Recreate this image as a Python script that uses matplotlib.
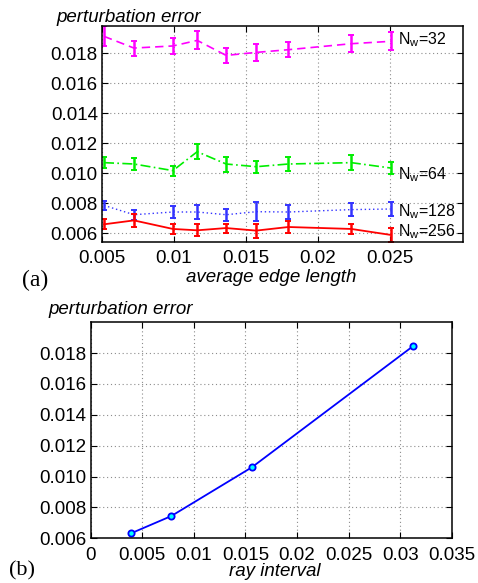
import numpy as np
import matplotlib
matplotlib.use("Agg")
from matplotlib import pyplot as plt

plt.rcParams['font.family'] = ['Liberation Sans', 'DejaVu Sans']
plt.rcParams['mathtext.fontset'] = 'custom'
plt.rcParams['mathtext.rm'] = 'Liberation Sans'

# (a) perturbation error vs average edge length, one series per N_w
edge = [0.00514, 0.00722, 0.00993, 0.01162, 0.01363, 0.01572, 0.01796, 0.02234, 0.02509]

err32 = [0.01911, 0.01833, 0.01847, 0.01884, 0.01784, 0.01804, 0.01822, 0.01862, 0.01878]
sd32 = [0.00067, 0.00050, 0.00053, 0.00060, 0.00050, 0.00058, 0.00050, 0.00055, 0.00060]

err64 = [0.01069, 0.01060, 0.01016, 0.01142, 0.01060, 0.01042, 0.01060, 0.01069, 0.01033]
sd64 = [0.00036, 0.00040, 0.00034, 0.00050, 0.00050, 0.00040, 0.00044, 0.00050, 0.00038]

err128 = [0.00784, 0.00722, 0.00740, 0.00740, 0.00722, 0.00742, 0.00740, 0.00756, 0.00760]
sd128 = [0.00028, 0.00033, 0.00038, 0.00044, 0.00041, 0.00064, 0.00044, 0.00043, 0.00047]

err256 = [0.00658, 0.00684, 0.00627, 0.00618, 0.00633, 0.00616, 0.00640, 0.00627, 0.00587]
sd256 = [0.00034, 0.00044, 0.00031, 0.00040, 0.00030, 0.00047, 0.00039, 0.00031, 0.00048]

# (b) perturbation error vs ray interval
ray = [1/256, 1/128, 1/64, 1/32]
ray_err = [0.00632, 0.00744, 0.01060, 0.01845]


def matlab_axes(ax):
    ax.grid(True, linestyle=(0, (1, 2.5)), color='0.55', linewidth=0.8)
    ax.tick_params(direction='in', top=True, right=True, length=4,
                   labelsize=13.5, pad=3)
    ax.tick_params(axis='x', pad=6)
    for s in ax.spines.values():
        s.set_linewidth(1.1)


fig = plt.figure(figsize=(4.78, 5.83), dpi=100)

ax1 = fig.add_axes([0.2134, 0.5849, 0.7552, 0.3705])
series = [(err32, sd32, '#ff00ff', (0, (5, 3)), 1.2),
          (err64, sd64, '#00ee00', (0, (6, 2, 1, 2)), 1.2),
          (err128, sd128, '#3333ff', (0, (1, 2)), 1.0),
          (err256, sd256, '#ff0000', '-', 1.3)]
for y, e, c, ls, lw in series:
    ax1.plot(edge, y, color=c, linestyle=ls, linewidth=lw)
    ax1.errorbar(edge, y, yerr=e, fmt='none', ecolor=c, elinewidth=1.8,
                 capsize=2.5, capthick=1.4)
ax1.set_xlim(0.005, 0.0301)
ax1.set_ylim(0.0054, 0.0198)
ax1.set_xticks([0.005, 0.01, 0.015, 0.02, 0.025])
ax1.set_xticklabels(['0.005', '0.01', '0.015', '0.02', '0.025'])
ax1.set_yticks([0.006, 0.008, 0.010, 0.012, 0.014, 0.016, 0.018])
ax1.set_yticklabels(['0.006', '0.008', '0.010', '0.012', '0.014', '0.016', '0.018'])
matlab_axes(ax1)

for lab, ly in [('32', 0.01856), ('64', 0.00959), ('128', 0.00712), ('256', 0.00578)]:
    ax1.text(0.02556, ly, r'N$_{\rm w}$=' + lab, fontsize=11.5, va='baseline', ha='left')

ax2 = fig.add_axes([0.1897, 0.0767, 0.7552, 0.3705])
ax2.plot(ray, ray_err, color='#0000ff', linewidth=1.3, marker='o', markersize=4.5,
         markerfacecolor='#00ffff', markeredgecolor='#0000ff', markeredgewidth=1.3)
ax2.set_xlim(0, 0.035)
ax2.set_ylim(0.006, 0.020)
ax2.set_xticks([0, 0.005, 0.01, 0.015, 0.02, 0.025, 0.03, 0.035])
ax2.set_xticklabels(['0', '0.005', '0.01', '0.015', '0.02', '0.025', '0.03', '0.035'])
ax2.set_yticks([0.006, 0.008, 0.010, 0.012, 0.014, 0.016, 0.018])
ax2.set_yticklabels(['0.006', '0.008', '0.010', '0.012', '0.014', '0.016', '0.018'])
matlab_axes(ax2)

W, H = 478.0, 583.0
fig.text(56 / W, 1 - 17 / H, 'perturbation error', fontsize=13.5, style='italic',
         ha='left', va='center')
fig.text(271 / W, 1 - 277 / H, 'average edge length', fontsize=13.5, style='italic',
         ha='center', va='center')
fig.text(22 / W, 1 - 280 / H, '(a)', fontsize=17, family='Liberation Serif',
         ha='left', va='center')

fig.text(48 / W, 1 - 309 / H, 'perturbation error', fontsize=13.5, style='italic',
         ha='left', va='center')
fig.text(275 / W, 1 - 571 / H, 'ray interval', fontsize=13.5, style='italic',
         ha='center', va='center')
fig.text(9 / W, 1 - 571 / H, '(b)', fontsize=16, family='Liberation Serif',
         ha='left', va='center')

fig.savefig('out.png', dpi=100)
